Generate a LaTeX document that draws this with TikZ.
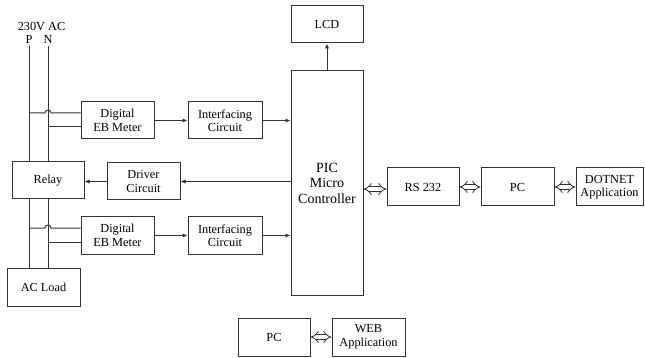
\documentclass[tikz,border=0pt]{standalone}
\usepackage{fontspec}
\setmainfont{Liberation Serif}
\usetikzlibrary{arrows.meta}
\begin{document}
\begin{tikzpicture}[x=1pt,y=-1pt,
  box/.style={draw=black!80,line width=1pt,inner sep=1pt,align=center,font=\fontsize{12.3}{13.5}\selectfont},
  wire/.style={draw=black!80,line width=1pt},
  arr/.style={wire,-{Latex[length=5pt,width=4.5pt]}},
  dbl/.style={draw=black!80,line width=0.8pt,double,double distance=3.6pt,{Implies[]}-{Implies[]}},
  lbl/.style={font=\fontsize{12.3}{13}\selectfont,inner sep=0pt}]
\useasboundingbox (0,0) rectangle (645,358);
% boxes
\node[box,minimum width=73,minimum height=37] (meter1) at (117.5,120.5) {Digital\\EB Meter};
\node[box,minimum width=74,minimum height=37] (intf1) at (225,120.5) {Interfacing\\Circuit};
\node[box,minimum width=72,minimum height=224,font=\fontsize{14}{15.5}\selectfont] (pic) at (327,183) {PIC\\Micro\\Controller};
\node[box,minimum width=72,minimum height=37] (lcd) at (327,24.5) {LCD};
\node[box,minimum width=72,minimum height=37] (relay) at (48,180.5) {Relay};
\node[box,minimum width=73,minimum height=37] (driver) at (143.5,181.5) {Driver\\Circuit};
\node[box,minimum width=73,minimum height=37] (meter2) at (117.5,235.5) {Digital\\EB Meter};
\node[box,minimum width=74,minimum height=37] (intf2) at (225,235.5) {Interfacing\\Circuit};
\node[box,minimum width=73,minimum height=38] (acload) at (43.5,287) {AC Load};
\node[box,minimum width=72,minimum height=38] (rs) at (423,187) {RS 232};
\node[box,minimum width=73,minimum height=38] (pc1) at (517.5,187) {PC};
\node[box,minimum width=67,minimum height=38] (dotnet) at (609.5,187) {DOTNET\\Application};
\node[box,minimum width=72,minimum height=38] (pc2) at (274,337) {PC};
\node[box,minimum width=73,minimum height=38] (web) at (368.5,337) {WEB\\Application};
% labels
\node[lbl] (ac) at (41.5,27) {230V AC};
\node[lbl] (p) at (29,39.5) {P};
\node[lbl] (n) at (48,39.5) {N};
\coordinate (ptop) at (29,46);
\coordinate (ntop) at (48,46);
% power lines
\draw[wire] (ptop) -- (ptop |- relay.north);
\draw[wire] (ntop) -- (ntop |- relay.north);
\draw[wire] (relay.south -| ptop) -- (ptop |- acload.north);
\draw[wire] (relay.south -| ntop) -- (ntop |- acload.north);
% meter connections
\draw[wire] (29,113) -- (45,113) arc[start angle=180,end angle=360,radius=3] -- (meter1.west |- 0,113);
\draw[wire] (48,127) -- (meter1.west |- 0,127);
\draw[wire] (29,228) -- (45,228) arc[start angle=180,end angle=360,radius=3] -- (meter2.west |- 0,228);
\draw[wire] (48,242) -- (meter2.west |- 0,242);
% arrows
\draw[arr] (meter1) -- (intf1);
\draw[arr] (intf1) -- (intf1 -| pic.west);
\draw[arr] (meter2) -- (intf2);
\draw[arr] (intf2) -- (intf2 -| pic.west);
\draw[arr] (pic.north) -- (lcd.south);
\draw[arr] (pic.west |- driver) -- (driver);
\draw[arr] (driver.west) -- (driver.west -| relay.east);
% double arrows
\draw[dbl] (pic.east |- 0,189) -- (rs.west |- 0,189);
\draw[dbl] (rs) -- (pc1);
\draw[dbl] (pc1) -- (dotnet);
\draw[dbl] (pc2) -- (web);
\end{tikzpicture}
\end{document}
